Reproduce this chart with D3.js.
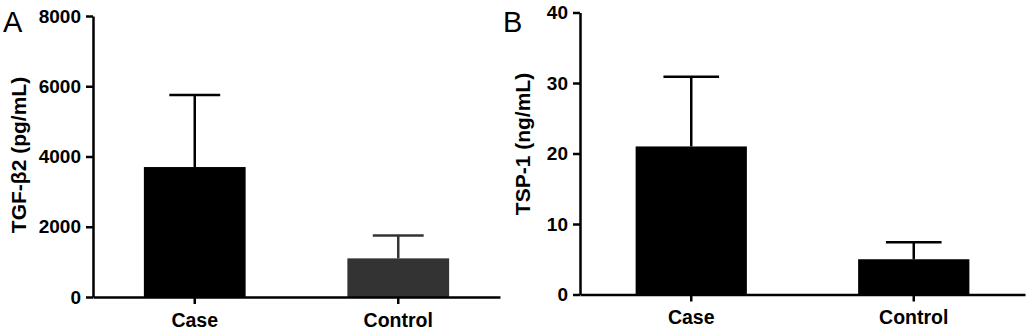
<!DOCTYPE html>
<html>
<head>
<meta charset="utf-8">
<script src="https://cdn.jsdelivr.net/npm/d3@7"></script>
<style>
  html, body { margin: 0; padding: 0; background: #fff; }
  svg { display: block; }
  .tick text { font-family: "Liberation Sans", Arial, sans-serif; font-weight: bold; }
</style>
</head>
<body>
<svg id="chart" width="1028" height="332"></svg>
<script>
// Groups compared in both panels
const groups = ["Case", "Control"];

// Panel A: TGF-β2 (pg/mL), mean and SD
const tgfMean = [3700, 1100];
const tgfSD = [2050, 650];
const tgfTicks = [0, 2000, 4000, 6000, 8000];

// Panel B: TSP-1 (ng/mL), mean and SD
const tspMean = [21, 5];
const tspSD = [9.9, 2.4];
const tspTicks = [0, 10, 20, 30, 40];

const svg = d3.select("#chart");

function panel(cfg) {
  const g = svg.append("g");
  const y = d3.scaleLinear().domain([0, cfg.ticks[cfg.ticks.length - 1]]).range([cfg.y0, cfg.y1]);
  const x = d3.scaleBand().domain(groups).range([cfg.x0, cfg.x1]).paddingInner(0.5).paddingOuter(0.25);
  const rows = groups.map((k, i) => ({ k, mean: cfg.mean[i], sd: cfg.sd[i], fill: cfg.fills[i] }));

  // bars
  g.selectAll("rect.bar").data(rows).join("rect")
    .attr("class", "bar")
    .attr("x", d => x(d.k))
    .attr("width", x.bandwidth())
    .attr("y", d => y(d.mean))
    .attr("height", d => y(0) - y(d.mean))
    .attr("fill", d => d.fill);

  // upper error bars
  const cx = d => x(d.k) + x.bandwidth() / 2;
  g.selectAll("line.err").data(rows).join("line")
    .attr("class", "err")
    .attr("x1", cx).attr("x2", cx)
    .attr("y1", d => y(d.mean)).attr("y2", d => y(d.mean + d.sd))
    .attr("stroke", d => d.fill).attr("stroke-width", 2.5);
  g.selectAll("line.cap").data(rows).join("line")
    .attr("class", "cap")
    .attr("x1", d => cx(d) - x.bandwidth() / 4).attr("x2", d => cx(d) + x.bandwidth() / 4)
    .attr("y1", d => y(d.mean + d.sd)).attr("y2", d => y(d.mean + d.sd))
    .attr("stroke", d => d.fill).attr("stroke-width", 2.5);

  // y axis
  const ya = g.append("g")
    .attr("transform", `translate(${cfg.x0},0)`)
    .call(d3.axisLeft(y).tickValues(cfg.ticks).tickSize(7).tickSizeOuter(0).tickPadding(5).tickFormat(d3.format("d")));
  ya.selectAll("text").attr("font-size", 19).attr("fill", "#000");

  // x axis
  const xa = g.append("g")
    .attr("transform", `translate(0,${cfg.y0})`)
    .call(d3.axisBottom(x).tickSize(7).tickSizeOuter(0).tickPadding(9));
  xa.selectAll("text").attr("font-size", 19.5).attr("fill", "#000");

  [ya, xa].forEach(a => {
    a.selectAll("path.domain").attr("stroke", "#000").attr("stroke-width", 2.5);
    a.selectAll(".tick line").attr("stroke", "#000").attr("stroke-width", 2.5);
  });

  // y axis title
  svg.append("text")
    .attr("transform", `translate(${cfg.titleX},${cfg.titleY}) rotate(-90)`)
    .attr("text-anchor", "middle")
    .attr("font-family", "Liberation Sans, Arial, sans-serif")
    .attr("font-weight", "bold")
    .attr("font-size", 21)
    .text(cfg.title);

  // panel letter
  svg.append("text")
    .attr("x", cfg.letterX).attr("y", 32)
    .attr("font-family", "Liberation Sans Narrow, Arial Narrow, sans-serif")
    .attr("font-size", 29)
    .text(cfg.letter);
}

panel({
  letter: "A", letterX: 3,
  title: "TGF-β2 (pg/mL)", titleX: 26, titleY: 155,
  ticks: tgfTicks, mean: tgfMean, sd: tgfSD, fills: ["#000", "#333"],
  x0: 93, x1: 500, y0: 297, y1: 16
});

panel({
  letter: "B", letterX: 503,
  title: "TSP-1 (ng/mL)", titleX: 530, titleY: 144,
  ticks: tspTicks, mean: tspMean, sd: tspSD, fills: ["#000", "#000"],
  x0: 580, x1: 1025, y0: 294.5, y1: 12.5
});
</script>
</body>
</html>
